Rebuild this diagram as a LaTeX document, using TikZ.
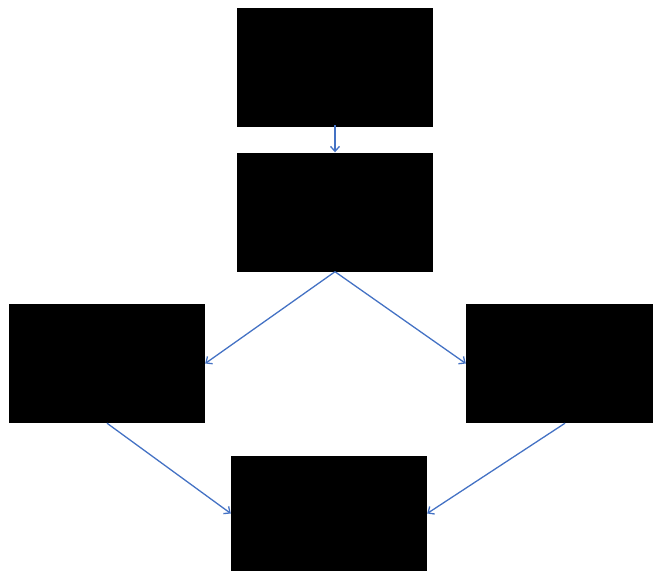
\documentclass[tikz,border=0pt]{standalone}
\usepackage{tikz}
\usetikzlibrary{arrows.meta}
\definecolor{flowblue}{RGB}{68,114,196}
\tikzset{
  flowbox/.style={fill=black,draw=none,inner sep=0pt,minimum width=196pt,minimum height=119pt},
  flowarrow/.style={-{Straight Barb[length=5pt,width=9pt]},line width=1.3pt,flowblue}
}

\begin{document}
\begin{tikzpicture}[x=1pt,y=-1pt]
  \useasboundingbox (0,0) rectangle (653,571);
  \node[flowbox] (topbox) at (335,67.5) {};
  \node[flowbox] (midbox) at (335,212) {};
  \node[flowbox] (leftbox) at (107,363.5) {};
  \node[flowbox,minimum width=187pt] (rightbox) at (559.5,363.5) {};
  \node[flowbox,minimum height=115pt] (basebox) at (329,513.5) {};
  \draw[flowarrow] ([yshift=2pt]topbox.south)--(midbox.north);
  \draw[flowarrow] (midbox.south)--(leftbox.east);
  \draw[flowarrow] (midbox.south)--(rightbox.west);
  \draw[flowarrow] (leftbox.south)--(basebox.west);
  \draw[flowarrow] ([xshift=5.5pt]rightbox.south)--(basebox.east);
\end{tikzpicture}
\end{document}
